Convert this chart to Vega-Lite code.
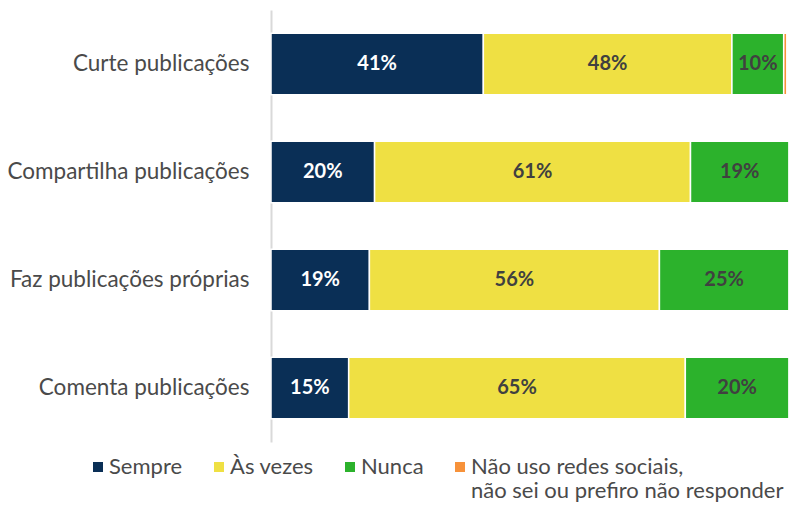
{
  "$schema": "https://vega.github.io/schema/vega-lite/v6.json",
  "width": 521,
  "height": 432,
  "autosize": "none",
  "padding": {"left": 271, "top": 10, "right": 0, "bottom": 64},
  "background": "white",
  "config": {"view": {"stroke": null}, "font": "Lato"},
  "data": {"values": [
    {"item": "Curte publicações", "resp": "Sempre", "o": 1, "v": 41},
    {"item": "Curte publicações", "resp": "Às vezes", "o": 2, "v": 48},
    {"item": "Curte publicações", "resp": "Nunca", "o": 3, "v": 10},
    {"item": "Curte publicações", "resp": "Não uso", "o": 4, "v": 0.6},
    {"item": "Compartilha publicações", "resp": "Sempre", "o": 1, "v": 20},
    {"item": "Compartilha publicações", "resp": "Às vezes", "o": 2, "v": 61},
    {"item": "Compartilha publicações", "resp": "Nunca", "o": 3, "v": 19},
    {"item": "Faz publicações próprias", "resp": "Sempre", "o": 1, "v": 19},
    {"item": "Faz publicações próprias", "resp": "Às vezes", "o": 2, "v": 56},
    {"item": "Faz publicações próprias", "resp": "Nunca", "o": 3, "v": 25},
    {"item": "Comenta publicações", "resp": "Sempre", "o": 1, "v": 15},
    {"item": "Comenta publicações", "resp": "Às vezes", "o": 2, "v": 65},
    {"item": "Comenta publicações", "resp": "Nunca", "o": 3, "v": 20}
  ]},
  "transform": [
    {"stack": "v", "groupby": ["item"], "sort": [{"field": "o"}], "as": ["v0", "v1"]},
    {"calculate": "(datum.v0 + datum.v1) / 2", "as": "mid"},
    {"calculate": "format(datum.v, '.0f') + '%'", "as": "lbl"}
  ],
  "encoding": {
    "y": {"field": "item", "type": "nominal",
      "sort": ["Curte publicações", "Compartilha publicações", "Faz publicações próprias", "Comenta publicações"],
      "scale": {"paddingInner": 0.43, "paddingOuter": 0.215},
      "axis": {"title": null, "ticks": false, "domainColor": "#d9d9d9", "domainWidth": 2, "labelFontSize": 22.5, "labelColor": "#4a4a4a", "labelPadding": 22, "labelFont": "Lato", "labelLimit": 300}}
  },
  "layer": [
    {
      "mark": {"type": "bar", "stroke": "white", "strokeWidth": 1.5},
      "encoding": {
        "x": {"field": "v0", "type": "quantitative", "scale": {"domain": [0, 100.6], "nice": false}, "axis": null},
        "x2": {"field": "v1"},
        "color": {"field": "resp", "type": "nominal",
          "scale": {"domain": ["Sempre", "Às vezes", "Nunca", "Não uso"], "range": ["#0a2f56", "#efe043", "#2cb22c", "#f7923a"]},
          "legend": {"title": null, "orient": "none", "legendX": -184, "legendY": 446, "padding": 0, "direction": "horizontal", "columns": 4,
            "symbolType": "square", "symbolSize": 100, "symbolStrokeWidth": 0, "labelFontSize": 22, "labelColor": "#4a4a4a", "labelFont": "Lato",
            "columnPadding": 25, "labelOffset": 0, "labelLimit": 400, "labelBaseline": "middle",
            "labelExpr": "datum.label == 'Não uso' ? ['Não uso redes sociais,', 'não sei ou prefiro não responder'] : [datum.label, '']",
            "encode": {"labels": {"update": {"lineHeight": {"value": 26}}}}}}
      }
    },
    {
      "transform": [{"filter": "datum.v >= 5"}],
      "mark": {"type": "text", "fontSize": 20, "fontWeight": "bold", "font": "Lato"},
      "encoding": {
        "x": {"field": "mid", "type": "quantitative"},
        "text": {"field": "lbl", "type": "nominal"},
        "color": {"condition": {"test": "datum.resp == 'Sempre'", "value": "white"}, "value": "#404040"}
      }
    }
  ]
}
